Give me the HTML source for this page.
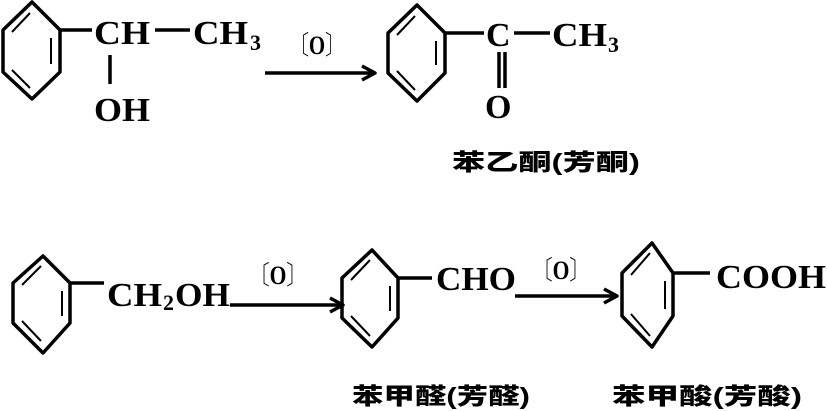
<!DOCTYPE html>
<html><head><meta charset="utf-8"><style>
html,body{margin:0;padding:0;background:#fff;}
svg{display:block}
text{font-family:"Liberation Serif","Noto Serif CJK SC",serif;fill:#000;font-weight:bold;}
.f{font-size:34px;}
.s{font-size:22px;}
.o{font-size:26px;}
.cn{font-family:"Liberation Sans","Noto Sans CJK SC",sans-serif;font-size:23px;font-weight:900;}
</style></head><body>
<svg width="827" height="411" viewBox="0 0 827 411" xmlns="http://www.w3.org/2000/svg">
<g stroke="#000" stroke-width="3.5" fill="none" stroke-linejoin="round">
<polygon points="32,2 60,30 60,72 32,99 3,72 3,30"/>
<line x1="12" y1="32" x2="30" y2="13" stroke-width="2"/><line x1="51" y1="38" x2="51" y2="64" stroke-width="2"/><line x1="12" y1="70" x2="30" y2="88" stroke-width="2"/>
<line x1="60" y1="30" x2="92" y2="30"/>
<line x1="155" y1="30" x2="190" y2="30"/>
<line x1="110" y1="55" x2="110" y2="84"/>
<line x1="265" y1="73" x2="372" y2="73"/><polyline points="362,66 375,73 362,80"/>
<polygon points="417,5 445,33 445,73 417,101 388,73 388,33"/>
<line x1="397" y1="35" x2="415" y2="16" stroke-width="2"/><line x1="436" y1="41" x2="436" y2="65" stroke-width="2"/><line x1="397" y1="71" x2="415" y2="90" stroke-width="2"/>
<line x1="445" y1="33" x2="484" y2="33"/>
<line x1="514" y1="33" x2="550" y2="33"/>
<line x1="499" y1="52" x2="499" y2="88"/><line x1="505" y1="52" x2="505" y2="88"/>
<polygon points="43,256 70,283 70,323 43,353 13,323 13,283"/>
<line x1="22" y1="285" x2="41" y2="266" stroke-width="2"/><line x1="62" y1="291" x2="62" y2="316" stroke-width="2"/><line x1="22" y1="321" x2="41" y2="341" stroke-width="2"/>
<line x1="70" y1="283" x2="104" y2="283"/>
<line x1="230" y1="305" x2="340" y2="305"/><polyline points="330,298 343,305 330,312"/>
<polygon points="372,250 398,278 398,318 372,347 342,318 342,278"/>
<line x1="351" y1="280" x2="370" y2="260" stroke-width="2"/><line x1="390" y1="286" x2="390" y2="311" stroke-width="2"/><line x1="351" y1="316" x2="370" y2="336" stroke-width="2"/>
<line x1="398" y1="278" x2="432" y2="278"/>
<line x1="515" y1="296" x2="614" y2="296"/><polyline points="604,289 617,296 604,303"/>
<polygon points="652,243 673,273 673,316 652,347 622,316 622,273"/>
<line x1="631" y1="275" x2="650" y2="253" stroke-width="2"/><line x1="665" y1="281" x2="665" y2="309" stroke-width="2"/><line x1="631" y1="314" x2="650" y2="336" stroke-width="2"/>
<line x1="673" y1="273" x2="710" y2="273"/>
</g>
<text class="f" x="94" y="44" textLength="56" lengthAdjust="spacingAndGlyphs">CH</text>
<text class="f" x="193" y="44" textLength="55" lengthAdjust="spacingAndGlyphs">CH</text><text class="s" x="250" y="50">3</text>
<text class="f" x="94" y="121" textLength="56" lengthAdjust="spacingAndGlyphs">OH</text>
<text class="o" x="288" y="54" textLength="58" lengthAdjust="spacingAndGlyphs">〔O〕</text>
<text class="f" x="486" y="46">C</text>
<text class="f" x="552" y="46" textLength="55" lengthAdjust="spacingAndGlyphs">CH</text><text class="s" x="608" y="52">3</text>
<text class="f" x="485" y="118">O</text>
<text class="cn" x="452" y="170" textLength="188" lengthAdjust="spacingAndGlyphs">苯乙酮(芳酮)</text>
<text class="f" x="107" y="306" textLength="55" lengthAdjust="spacingAndGlyphs">CH</text><text class="s" x="163" y="310">2</text>
<text class="f" x="175" y="306" textLength="55" lengthAdjust="spacingAndGlyphs">OH</text>
<text class="o" x="248" y="284" textLength="60" lengthAdjust="spacingAndGlyphs">〔O〕</text>
<text class="f" x="436" y="290" textLength="80" lengthAdjust="spacingAndGlyphs">CHO</text>
<text class="o" x="531" y="279" textLength="60" lengthAdjust="spacingAndGlyphs">〔O〕</text>
<text class="f" x="716" y="288" textLength="110" lengthAdjust="spacingAndGlyphs">COOH</text>
<text class="cn" x="352" y="404" textLength="178" lengthAdjust="spacingAndGlyphs">苯甲醛(芳醛)</text>
<text class="cn" x="612" y="404" textLength="190" lengthAdjust="spacingAndGlyphs">苯甲酸(芳酸)</text>
</svg>
</body></html>
